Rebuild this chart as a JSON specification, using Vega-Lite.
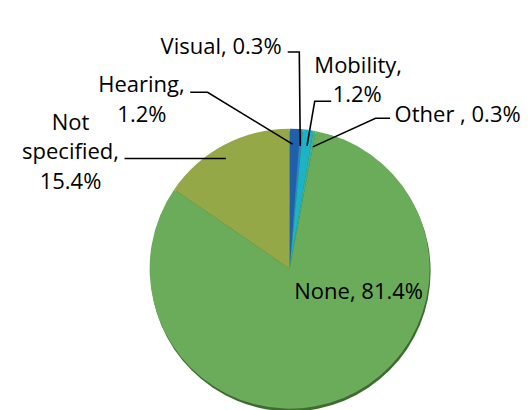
{
  "$schema": "https://vega.github.io/schema/vega-lite/v6.json",
  "width": 531,
  "height": 410,
  "padding": 0,
  "autosize": {"type": "fit", "contains": "padding"},
  "background": "white",
  "config": {"view": {"stroke": null}},
  "datasets": {
    "slices": [
      {"category": "Hearing", "pct": 1.2, "ord": 1},
      {"category": "Visual", "pct": 0.3, "ord": 2},
      {"category": "Mobility", "pct": 1.2, "ord": 3},
      {"category": "Other", "pct": 0.3, "ord": 4},
      {"category": "None", "pct": 81.4, "ord": 5},
      {"category": "Not specified", "pct": 15.4, "ord": 6}
    ],
    "labels": [
      {"text": "Visual, 0.3%", "lx": -71, "ly": 240},
      {"text": "Mobility,", "lx": 71, "ly": 218},
      {"text": "1.2%", "lx": 70, "ly": 186},
      {"text": "Other , 0.3%", "lx": 174, "ly": 164},
      {"text": "Hearing,", "lx": -153.5, "ly": 197},
      {"text": "1.2%", "lx": -153, "ly": 164},
      {"text": "Not", "lx": -227, "ly": 155},
      {"text": "specified,", "lx": -227, "ly": 122},
      {"text": "15.4%", "lx": -227, "ly": 89},
      {"text": "None, 81.4%", "lx": 71.5, "ly": -34}
    ],
    "leaders": [
      {"leader": "Visual", "seq": 1, "lx": -2, "ly": 242},
      {"leader": "Visual", "seq": 2, "lx": 10, "ly": 242},
      {"leader": "Visual", "seq": 3, "lx": 11, "ly": 137},
      {"leader": "Mobility", "seq": 1, "lx": 43, "ly": 187},
      {"leader": "Mobility", "seq": 2, "lx": 26, "ly": 187},
      {"leader": "Mobility", "seq": 3, "lx": 18, "ly": 137},
      {"leader": "Other", "seq": 1, "lx": 104, "ly": 168},
      {"leader": "Other", "seq": 2, "lx": 89, "ly": 168},
      {"leader": "Other", "seq": 3, "lx": 24, "ly": 136},
      {"leader": "Hearing", "seq": 1, "lx": -103, "ly": 197},
      {"leader": "Hearing", "seq": 2, "lx": -85, "ly": 197},
      {"leader": "Hearing", "seq": 3, "lx": 3, "ly": 139},
      {"leader": "Not specified", "seq": 1, "lx": -171, "ly": 123},
      {"leader": "Not specified", "seq": 2, "lx": -66, "ly": 123}
    ]
  },
  "layer": [
    {
      "data": {"values": [{"shadow": "pie"}]},
      "mark": {"type": "arc", "radius": 140, "theta": 0, "theta2": 6.2832, "color": "#3f6b30"},
      "encoding": {
        "x": {"datum": 1, "type": "quantitative", "scale": {"domain": [-289, 242]}, "axis": null},
        "y": {"datum": -3, "type": "quantitative", "scale": {"domain": [-143, 267]}, "axis": null}
      }
    },
    {
      "data": {"name": "slices"},
      "mark": {"type": "arc", "radius": 140, "stroke": null},
      "encoding": {
        "x": {"datum": 0, "type": "quantitative"},
        "y": {"datum": 0, "type": "quantitative"},
        "theta": {"field": "pct", "type": "quantitative", "stack": true},
        "order": {"field": "ord", "type": "quantitative"},
        "color": {
          "field": "category",
          "type": "nominal",
          "legend": null,
          "scale": {
            "domain": ["Hearing", "Visual", "Mobility", "Other", "None", "Not specified"],
            "range": ["#1f5fab", "#2a86c6", "#1db3c6", "#45b08c", "#6aac5a", "#94a848"]
          }
        }
      }
    },
    {
      "data": {"name": "leaders"},
      "mark": {"type": "line", "color": "black", "strokeWidth": 1.6},
      "encoding": {
        "x": {"field": "lx", "type": "quantitative"},
        "y": {"field": "ly", "type": "quantitative"},
        "detail": {"field": "leader"},
        "order": {"field": "seq", "type": "quantitative"}
      }
    },
    {
      "data": {"name": "labels"},
      "mark": {"type": "text", "font": "Open Sans", "fontSize": 22, "color": "black", "align": "center", "baseline": "alphabetic"},
      "encoding": {
        "x": {"field": "lx", "type": "quantitative"},
        "y": {"field": "ly", "type": "quantitative"},
        "text": {"field": "text"}
      }
    }
  ]
}
